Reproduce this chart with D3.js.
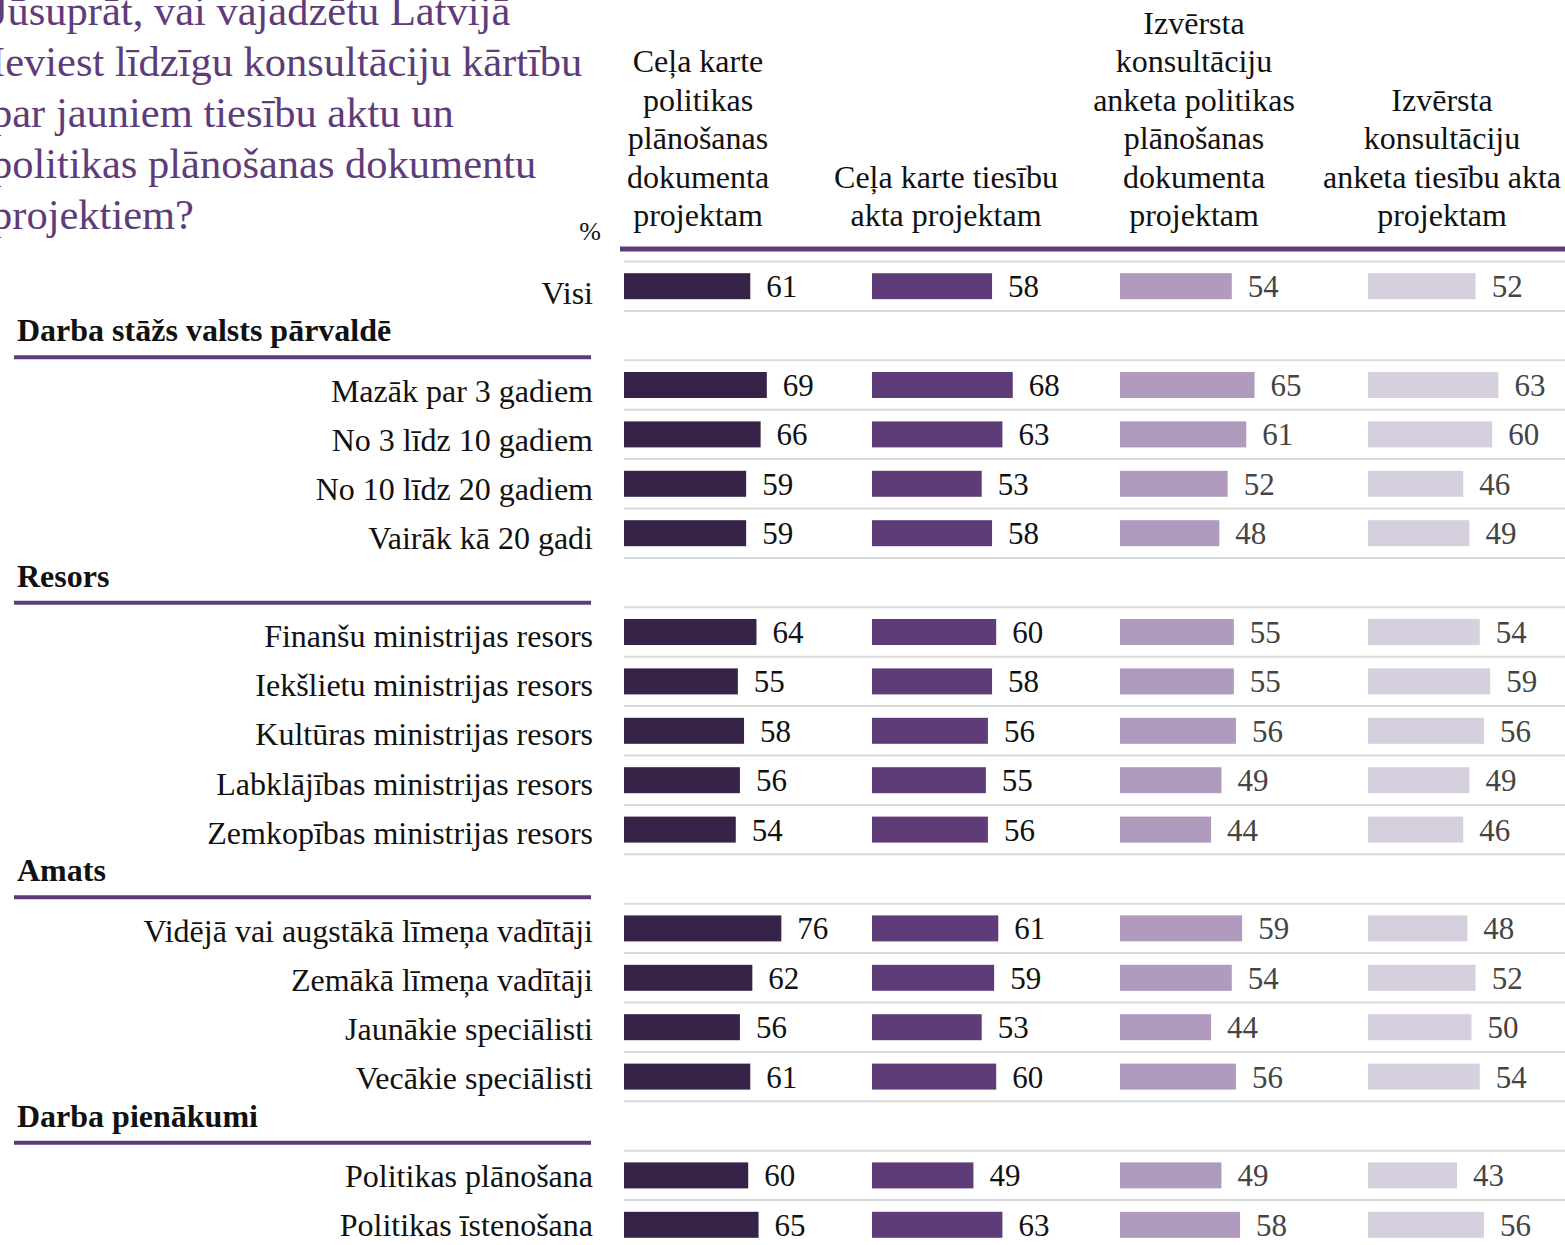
<!DOCTYPE html>
<html>
  <head>
    <meta charset="UTF-8" />
    <script src="https://cdnjs.cloudflare.com/ajax/libs/d3/7.8.5/d3.min.js"></script>
    <style>
      body { margin: 0; background: #fff; }
      text { font-family: "Liberation Serif", "Times New Roman", serif; }
      .title { fill: #5e3c7a; font-size: 42.5px; }
      .colhead { fill: #111; font-size: 32px; }
      .rowlabel { fill: #111; font-size: 32px; }
      .grouplabel { fill: #111; font-size: 32px; font-weight: bold; }
      .value { font-size: 31px; }
    </style>
  </head>
  <body>
    <svg id="chart" width="1565" height="1245"></svg>
    <script>
      const titleLines = [
        "Jūsuprāt, vai vajadzētu Latvijā",
        "Ieviest līdzīgu konsultāciju kārtību",
        "par jauniem tiesību aktu un",
        "politikas plānošanas dokumentu",
        "projektiem?"
      ];

      const seriesNames = [
        ["Ceļa karte", "politikas", "plānošanas", "dokumenta", "projektam"],
        ["Ceļa karte tiesību", "akta projektam"],
        ["Izvērsta", "konsultāciju", "anketa politikas", "plānošanas", "dokumenta", "projektam"],
        ["Izvērsta", "konsultāciju", "anketa tiesību akta", "projektam"]
      ];
      const seriesColors = ["#372348", "#5e3c78", "#b09bbf", "#d6d0de"];
      const valueColors = ["#111", "#111", "#444", "#444"];

      const groups = ["Darba stāžs valsts pārvaldē", "Resors", "Amats", "Darba pienākumi"];

      const rowLabels = [
        "Visi",
        "Mazāk par 3 gadiem", "No 3 līdz 10 gadiem", "No 10 līdz 20 gadiem", "Vairāk kā 20 gadi",
        "Finanšu ministrijas resors", "Iekšlietu ministrijas resors", "Kultūras ministrijas resors",
        "Labklājības ministrijas resors", "Zemkopības ministrijas resors",
        "Vidējā vai augstākā līmeņa vadītāji", "Zemākā līmeņa vadītāji", "Jaunākie speciālisti",
        "Vecākie speciālisti",
        "Politikas plānošana", "Politikas īstenošana"
      ];
      const rowGroup = [-1, 0, 0, 0, 0, 1, 1, 1, 1, 1, 2, 2, 2, 2, 3, 3];

      const celaPolitikas = [61, 69, 66, 59, 59, 64, 55, 58, 56, 54, 76, 62, 56, 61, 60, 65];
      const celaTiesibu = [58, 68, 63, 53, 58, 60, 58, 56, 55, 56, 61, 59, 53, 60, 49, 63];
      const anketaPolitikas = [54, 65, 61, 52, 48, 55, 55, 56, 49, 44, 59, 54, 44, 56, 49, 58];
      const anketaTiesibu = [52, 63, 60, 46, 49, 54, 59, 56, 49, 46, 48, 52, 50, 54, 43, 56];
      const seriesValues = [celaPolitikas, celaTiesibu, anketaPolitikas, anketaTiesibu];

      // build slot list: data rows with a blank slot before each new group
      const slots = [];
      rowLabels.forEach((label, i) => {
        if (i > 0 && rowGroup[i] !== rowGroup[i - 1]) slots.push({ group: rowGroup[i] });
        slots.push({ label: label, row: i });
      });
      slots.forEach((d, i) => (d.idx = i));

      const svg = d3.select("#chart");

      // bar panel and label panel are laid out slightly differently
      const yScale = d3.scaleBand()
        .domain(d3.range(slots.length))
        .range([261.5, 261.5 + 49.4 * slots.length]);
      const yLabel = d3.scaleBand()
        .domain(d3.range(slots.length))
        .range([261, 261 + 49.1 * slots.length]);
      const colScale = d3.scaleBand()
        .domain(d3.range(4))
        .range([624, 624 + 248 * 4]);
      const xScale = d3.scaleLinear().domain([0, 100]).range([0, 207]);
      const barH = 26;

      // title
      svg.append("text")
        .attr("class", "title")
        .selectAll("tspan")
        .data(titleLines)
        .join("tspan")
        .attr("x", -9)
        .attr("y", (d, i) => 25 + i * 51)
        .text(d => d);

      svg.append("text")
        .attr("x", 590).attr("y", 240)
        .attr("text-anchor", "middle")
        .style("font-size", "26px")
        .style("fill", "#111")
        .text("%");

      // column headings, bottom aligned
      seriesNames.forEach((lines, c) => {
        svg.append("text")
          .attr("class", "colhead")
          .attr("text-anchor", "middle")
          .selectAll("tspan")
          .data(lines)
          .join("tspan")
          .attr("x", colScale(c) + 74)
          .attr("y", (d, i) => 226 - (lines.length - 1 - i) * 38.4)
          .text(d => d);
      });

      // header rule
      svg.append("line")
        .attr("x1", 620).attr("x2", 1565)
        .attr("y1", 249).attr("y2", 249)
        .style("stroke", "#5e3c78")
        .style("stroke-width", 5);

      // grid lines at slot boundaries
      svg.append("g")
        .selectAll("line")
        .data(d3.range(slots.length))
        .join("line")
        .attr("x1", 624).attr("x2", 1565)
        .attr("y1", d => yScale(d)).attr("y2", d => yScale(d))
        .style("stroke", "#dadada")
        .style("stroke-width", 2);

      // group headings with their rules
      const grp = svg.append("g")
        .selectAll("g")
        .data(slots.filter(d => d.group !== undefined))
        .join("g")
        .attr("transform", d => `translate(0,${yLabel(d.idx) + yLabel.bandwidth()})`);
      grp.append("text")
        .attr("class", "grouplabel")
        .attr("x", 17)
        .attr("y", -18)
        .text(d => groups[d.group]);
      grp.append("line")
        .attr("x1", 14).attr("x2", 591)
        .attr("y1", -2).attr("y2", -2)
        .style("stroke", "#5e3c78")
        .style("stroke-width", 4);

      const dataSlots = slots.filter(d => d.row !== undefined);

      // row labels
      svg.append("g")
        .selectAll("text")
        .data(dataSlots)
        .join("text")
        .attr("class", "rowlabel")
        .attr("x", 593)
        .attr("y", d => yLabel(d.idx) + yLabel.bandwidth() / 2 + 18)
        .attr("text-anchor", "end")
        .text(d => d.label);

      // bars and values
      const rows = svg.append("g")
        .selectAll("g")
        .data(dataSlots)
        .join("g")
        .attr("transform", d => `translate(0,${yScale(d.idx)})`);

      seriesValues.forEach((vals, c) => {
        rows.append("rect")
          .attr("x", colScale(c))
          .attr("y", yScale.bandwidth() / 2 - barH / 2)
          .attr("width", d => xScale(vals[d.row]))
          .attr("height", barH)
          .style("fill", seriesColors[c]);
        rows.append("text")
          .attr("class", "value")
          .attr("x", d => colScale(c) + xScale(vals[d.row]) + 16)
          .attr("y", yScale.bandwidth() / 2 + 11)
          .style("fill", valueColors[c])
          .text(d => vals[d.row]);
      });
    </script>
  </body>
</html>
